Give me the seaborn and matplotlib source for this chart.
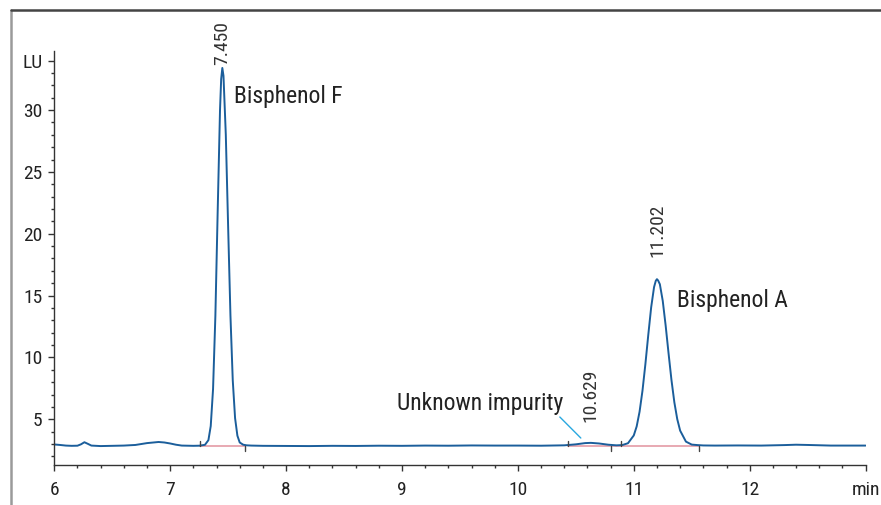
import matplotlib
matplotlib.use("Agg")
import matplotlib.pyplot as plt
from matplotlib.lines import Line2D
from matplotlib.ticker import MultipleLocator
import pandas as pd
import seaborn as sns

# chromatogram trace (retention time in min, signal in LU)
time_min = [6.00, 6.05, 6.10, 6.15, 6.20, 6.23, 6.26, 6.29, 6.32, 6.40, 6.50, 6.60, 6.70,
            6.80, 6.90, 6.95, 7.00, 7.05, 7.10, 7.20, 7.25,
            7.30, 7.33, 7.35, 7.37, 7.39, 7.41, 7.43, 7.44, 7.45, 7.46, 7.48, 7.50, 7.52,
            7.54, 7.56, 7.58, 7.60, 7.63, 7.66,
            7.70, 7.80, 8.00, 8.20, 8.40, 8.60, 8.80, 9.00, 9.20, 9.40, 9.60, 9.80, 10.00,
            10.20, 10.40, 10.50, 10.58, 10.63, 10.70, 10.78, 10.85,
            10.90, 10.95, 11.00, 11.025, 11.05, 11.075, 11.10, 11.125, 11.15, 11.175, 11.19,
            11.20, 11.21, 11.225, 11.25, 11.275, 11.30, 11.325, 11.35, 11.375, 11.40, 11.45,
            11.50, 11.55,
            11.60, 11.70, 11.90, 12.10, 12.30, 12.40, 12.50, 12.70, 12.90, 13.00]
signal_lu = [2.97, 2.93, 2.88, 2.86, 2.87, 2.98, 3.15, 3.02, 2.88, 2.84, 2.86, 2.88, 2.93,
             3.08, 3.17, 3.13, 3.05, 2.95, 2.88, 2.86, 2.87,
             2.94, 3.32, 4.46, 7.45, 13.36, 21.85, 30.0, 32.5, 33.4, 32.76, 28.0, 20.6, 13.4,
             8.15, 5.1, 3.68, 3.13, 2.95, 2.9,
             2.88, 2.86, 2.85, 2.84, 2.86, 2.85, 2.87, 2.86, 2.88, 2.87, 2.89, 2.88, 2.88,
             2.87, 2.9, 2.98, 3.08, 3.1, 3.05, 2.95, 2.9,
             2.92, 3.07, 3.70, 4.43, 5.62, 7.31, 9.45, 11.82, 14.05, 15.69, 16.2,
             16.33, 16.22, 15.92, 14.57, 12.58, 10.34, 8.19, 6.38, 5.02, 4.09, 3.20,
             2.96, 2.92,
             2.89, 2.88, 2.89, 2.88, 2.92, 2.95, 2.93, 2.88, 2.88, 2.88]

# peak labels
peak_rt = [7.450, 10.629, 11.202]
peak_rt_labels = ["7.450", "10.629", "11.202"]
peak_label_y = [33.6, 4.8, 18.1]

# integration baselines and event marks
int_start = [7.26, 10.43, 10.89]
int_end = [7.645, 10.80, 11.56]
int_segments = [(7.26, 7.645), (10.43, 11.56)]
int_level = 2.88

df = pd.DataFrame({"time": time_min, "LU": signal_lu})

sns.set_style("ticks")
plt.rcParams["font.family"] = ["Roboto Condensed", "DejaVu Sans"]

fig = plt.figure(figsize=(8.81, 5.05), dpi=100)
ax = fig.add_axes([0.0616, 0.0792, 0.9209, 0.8198])

sns.lineplot(data=df, x="time", y="LU", ax=ax, color="#1b5e9b", linewidth=1.4,
             estimator=None, sort=False)

for x0, x1 in int_segments:
    ax.plot([x0, x1], [int_level, int_level], color="#e6a3ad", linewidth=1.3, zorder=1)
for x in int_start:
    ax.plot([x, x], [int_level, int_level + 0.4], color="#444444", linewidth=1)
for x in int_end:
    ax.plot([x, x], [int_level, int_level - 0.4], color="#444444", linewidth=1)

for rt, lab, yy in zip(peak_rt, peak_rt_labels, peak_label_y):
    ax.text(rt, yy, lab, rotation=90, ha="center", va="bottom", fontsize=14, color="#333333")

ax.text(7.55, 30.54, "Bisphenol F", fontsize=17, color="#222222", va="baseline")
ax.text(11.375, 14.1, "Bisphenol A", fontsize=17, color="#222222", va="baseline")
ax.text(8.954, 5.75, "Unknown impurity", fontsize=17, color="#222222", va="baseline")
ax.plot([10.362, 10.543], [5.19, 3.49], color="#29a8e0", linewidth=1)

ax.set_xlim(6, 13)
ax.set_ylim(1.31, 34.77)
ax.set_xticks([6, 7, 8, 9, 10, 11, 12, 13])
ax.set_xticklabels(["6", "7", "8", "9", "10", "11", "12", "min"])
ax.set_yticks([5, 10, 15, 20, 25, 30, 34])
ax.set_yticklabels(["5", "10", "15", "20", "25", "30", "LU"])
ax.xaxis.set_minor_locator(MultipleLocator(0.2))
ax.yaxis.set_minor_locator(MultipleLocator(1))
ax.tick_params(which="major", length=4.5, width=1, color="#333333", labelsize=14,
               labelcolor="#222222")
ax.tick_params(which="minor", length=2.5, width=1, color="#333333")
ax.tick_params(axis="x", which="major", pad=7)
ax.tick_params(axis="y", which="major", pad=4)
ax.set_xlabel("")
ax.set_ylabel("")
sns.despine(ax=ax)
for s in ["left", "bottom"]:
    ax.spines[s].set_color("#333333")
    ax.spines[s].set_linewidth(1)

# outer frame lines (top and left)
fig.add_artist(Line2D([11 / 881, 11 / 881], [0, 1 - 10 / 505], color="#9a9a9a", linewidth=1.8))
fig.add_artist(Line2D([11 / 881, 1], [1 - 10 / 505, 1 - 10 / 505], color="#444444", linewidth=1.8))

fig.savefig("out.png", dpi=100)
